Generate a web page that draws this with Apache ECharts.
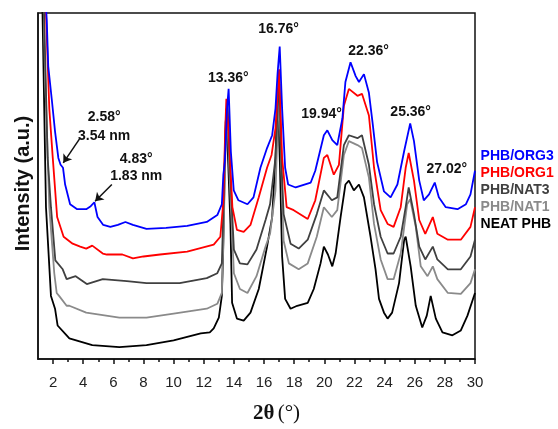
<!DOCTYPE html>
<html>
<head>
<meta charset="utf-8">
<script src="https://cdn.jsdelivr.net/npm/echarts@6.0.0/dist/echarts.min.js"></script>
<style>
  html, body { margin: 0; padding: 0; background: #fff; }
  #chart { width: 558px; height: 429px; }
</style>
</head>
<body>
<div id="chart"></div>
<script>
// 2θ (deg), intensity (a.u.)
const org3 = [
  [1.45, 380], [1.58, 344], [1.68, 297], [1.91, 264], [2.13, 231], [2.35, 204], [2.5, 197], [2.66, 194],
  [2.8, 177], [3.13, 157], [3.6, 152], [4.2, 152], [4.5, 155], [4.74, 159], [4.95, 144], [5.33, 136],
  [5.8, 134], [6.3, 136], [6.8, 139], [7.3, 136], [8.2, 132], [9.5, 133], [10.9, 135], [12.2, 139],
  [12.9, 146], [13.2, 157], [13.3, 187], [13.4, 200], [13.55, 255], [13.65, 274], [13.8, 210], [13.99, 171],
  [14.3, 161], [14.9, 157], [15.3, 164], [15.76, 194], [16.2, 214], [16.54, 227], [16.76, 254], [16.9, 290],
  [17.04, 317], [17.2, 254], [17.4, 194], [17.6, 177], [18.1, 174], [19.1, 179], [19.4, 191], [19.97, 227],
  [20.2, 232], [20.53, 222], [20.86, 217], [21.2, 244], [21.4, 281], [21.74, 301], [22.08, 287], [22.3, 281],
  [22.63, 289], [22.96, 270], [23.2, 240], [23.5, 200], [23.96, 170], [24.4, 164], [24.85, 177], [25.3, 211],
  [25.7, 239], [25.95, 221], [26.3, 181], [26.6, 161], [26.95, 167], [27.33, 179], [27.6, 164], [28.06, 154],
  [28.84, 152], [29.4, 157], [29.7, 167], [30, 191]
];
const org1 = [
  [1.4, 380], [1.53, 351], [1.75, 254], [1.98, 204], [2.27, 144], [2.7, 124], [3.3, 117], [3.8, 114],
  [4.2, 112], [4.6, 115], [5.3, 107], [5.57, 106], [6.6, 106], [7.3, 102], [8, 104], [9.1, 106],
  [10.9, 109], [12.66, 116], [13.1, 124], [13.3, 160], [13.42, 230], [13.5, 264], [13.65, 230], [13.9, 154],
  [14.2, 131], [14.65, 129], [15.1, 136], [15.65, 164], [16.2, 194], [16.5, 207], [16.76, 234], [17.0, 294],
  [17.2, 204], [17.5, 154], [17.97, 151], [18.9, 142], [19.4, 161], [19.97, 204], [20.2, 207], [20.63, 187],
  [20.97, 197], [21.3, 257], [21.63, 274], [22.2, 267], [22.5, 269], [22.96, 247], [23.3, 194], [23.74, 151],
  [24.2, 137], [24.6, 134], [25.07, 154], [25.4, 194], [25.6, 209], [25.95, 181], [26.3, 141], [26.7, 127],
  [27.2, 144], [27.5, 127], [28.2, 121], [29.06, 121], [29.7, 134], [30, 154]
];
const nat3 = [
  [1.35, 380], [1.4, 351], [1.64, 204], [1.86, 154], [2.15, 100], [2.64, 91], [2.9, 81], [3.5, 84],
  [4.24, 76], [5.3, 81], [6.9, 79], [8.2, 77], [10.4, 77], [12.2, 82], [12.9, 87], [13.2, 97],
  [13.32, 160], [13.45, 240], [13.58, 259], [13.72, 200], [14.0, 111], [14.4, 97], [14.9, 96], [15.5, 111],
  [16.1, 141], [16.4, 157], [16.76, 204], [16.92, 260], [17.02, 279], [17.15, 200], [17.3, 147], [17.76, 117],
  [18.3, 112], [18.9, 121], [19.5, 147], [19.97, 171], [20.5, 161], [20.86, 164], [21.3, 217], [21.63, 227],
  [22.2, 224], [22.5, 227], [22.96, 197], [23.3, 157], [23.74, 124], [24.2, 107], [24.6, 107], [25.07, 124],
  [25.4, 154], [25.6, 174], [25.95, 147], [26.3, 114], [26.7, 101], [27.2, 114], [27.5, 101], [28.2, 91],
  [29.06, 91], [29.7, 104], [30, 121]
];
const nat1 = [
  [1.35, 380], [1.45, 300], [1.75, 154], [2.08, 87], [2.24, 67], [2.4, 64], [2.9, 54], [3.08, 54],
  [4.2, 47], [6.4, 42], [8.2, 42], [10, 46], [12.2, 51], [12.9, 56], [13.2, 67], [13.32, 130],
  [13.45, 220], [13.55, 254], [13.7, 190], [14.0, 87], [14.4, 71], [14.9, 67], [15.5, 84], [16.1, 114],
  [16.4, 127], [16.76, 171], [16.92, 240], [17.02, 264], [17.15, 190], [17.3, 120], [17.65, 97], [18.3, 91],
  [18.9, 97], [19.5, 124], [19.97, 154], [20.5, 144], [20.86, 151], [21.3, 207], [21.63, 221], [22.2, 217],
  [22.5, 214], [22.96, 184], [23.3, 137], [23.74, 101], [24.2, 81], [24.6, 81], [25.07, 107], [25.5, 157],
  [25.7, 162], [26.07, 134], [26.4, 94], [26.85, 84], [27.2, 94], [27.5, 81], [28.2, 67], [29.06, 66],
  [29.7, 77], [30, 91]
];
const neat = [
  [1.25, 380], [1.3, 351], [1.53, 154], [1.86, 64], [2.13, 51], [2.3, 34], [2.9, 24], [3.08, 21],
  [4.6, 14], [6.4, 12], [8.2, 14], [10, 19], [11.8, 26], [12.4, 27], [12.66, 31], [13.0, 42],
  [13.2, 64], [13.28, 104], [13.4, 200], [13.5, 254], [13.62, 200], [13.77, 137], [13.88, 57], [14.2, 41],
  [14.65, 39], [15.1, 47], [15.65, 71], [16.2, 114], [16.54, 144], [16.76, 204], [16.9, 274], [17.05, 200],
  [17.2, 104], [17.4, 61], [17.76, 51], [18.2, 54], [18.9, 57], [19.3, 71], [19.75, 97], [19.97, 114],
  [20.24, 106], [20.53, 94], [20.75, 107], [21.08, 144], [21.4, 177], [21.63, 181], [21.96, 171], [22.3, 177],
  [22.63, 164], [23.07, 124], [23.4, 91], [23.63, 61], [23.96, 47], [24.2, 41], [24.5, 47], [24.96, 77],
  [25.3, 121], [25.4, 124], [25.73, 94], [26.07, 54], [26.5, 32], [26.8, 44], [27.06, 64], [27.4, 41],
  [27.84, 27], [28.5, 24], [29.06, 29], [29.5, 44], [30, 67]
];

const names = ['PHB/ORG3', 'PHB/ORG1', 'PHB/NAT3', 'PHB/NAT1', 'NEAT PHB'];
const colors = ['#0000ff', '#ff0000', '#404040', '#8a8a8a', '#000000'];
const majorTicks = [2, 4, 6, 8, 10, 12, 14, 16, 18, 20, 22, 24, 26, 28, 30];
const minorTicks = [3, 5, 7, 9, 11, 13, 15, 17, 19, 21, 23, 25, 27, 29];

// [text, 2θ, intensity] — where each annotation sits
const peakLabels = [
  ['2.58°', 5.39, 245], ['3.54 nm', 5.39, 226],
  ['4.83°', 7.52, 203], ['1.83 nm', 7.52, 185],
  ['13.36°', 13.63, 285], ['16.76°', 16.96, 335], ['19.94°', 19.82, 248],
  ['22.36°', 22.94, 312], ['25.36°', 25.73, 250], ['27.02°', 28.13, 193]
];
// arrows from the d-spacing labels to the ORG3 reflections
const arrows = [
  [[3.79, 224], [2.68, 199]],
  [[5.9, 177], [4.79, 160]]
];

const font = '"Liberation Sans", Arial, sans-serif';
const chart = echarts.init(document.getElementById('chart'));
const allData = [org3, org1, nat3, nat1, neat];

const series = allData.map((d, i) => ({
  name: names[i],
  type: 'line',
  data: d,
  showSymbol: false,
  clip: true,
  z: 10 - i,
  lineStyle: { color: colors[i], width: 1.8 },
  itemStyle: { color: colors[i] }
})).reverse();

series[series.length - 1].markLine = {
  silent: true,
  symbol: ['none', 'arrow'],
  symbolSize: 8,
  label: { show: false },
  lineStyle: { color: '#111', width: 1.5, type: 'solid' },
  data: arrows.map(a => [{ coord: a[0] }, { coord: a[1] }])
};

chart.setOption({
  animation: false,
  grid: {
    left: 38, right: 83, top: 13, bottom: 65,
    show: true, borderColor: '#111', borderWidth: 1.5
  },
  legend: {
    orient: 'vertical',
    left: 464,
    top: 144,
    itemWidth: 0,
    itemHeight: 14,
    itemGap: 3,
    selectedMode: false,
    itemStyle: { opacity: 0 },
    lineStyle: { opacity: 0 },
    textStyle: { fontFamily: font, fontWeight: 'bold', fontSize: 14, lineHeight: 14 },
    data: names.map((n, i) => ({ name: n, textStyle: { color: colors[i] } }))
  },
  xAxis: [{
    type: 'value',
    min: 1,
    max: 30,
    name: '{a|2θ} {b|(°)}',
    nameLocation: 'middle',
    nameGap: 44,
    nameTextStyle: {
      padding: [0, 0, 0, 40],
      rich: {
        a: { fontFamily: '"Liberation Serif", serif', fontWeight: 'bold', fontSize: 21, color: '#111' },
        b: { fontFamily: '"Liberation Serif", serif', fontSize: 21, color: '#111' }
      }
    },
    axisLine: { lineStyle: { color: '#111', width: 1.5 } },
    axisTick: { length: 5, inside: false, customValues: majorTicks, lineStyle: { color: '#111', width: 1.5 } },
    axisLabel: { customValues: majorTicks, margin: 16, fontFamily: font, fontSize: 15, color: '#222' },
    splitLine: { show: false }
  }, {
    type: 'value',
    min: 1,
    max: 30,
    position: 'bottom',
    axisLine: { show: false },
    axisTick: { length: 3, customValues: minorTicks, lineStyle: { color: '#111', width: 1.5 } },
    axisLabel: { show: false },
    splitLine: { show: false }
  }],
  yAxis: {
    type: 'value',
    min: 0,
    max: 351,
    name: 'Intensity (a.u.)',
    nameLocation: 'middle',
    nameGap: 5,
    nameTextStyle: { fontFamily: font, fontWeight: 'bold', fontSize: 20, color: '#111', padding: [0, 0, 0, 5] },
    axisLine: { show: true, lineStyle: { color: '#111', width: 1.5 } },
    axisTick: { show: false },
    axisLabel: { show: false },
    splitLine: { show: false }
  },
  series: series
});

chart.setOption({
  graphic: peakLabels.map(p => {
    const pt = chart.convertToPixel({ xAxisIndex: 0, yAxisIndex: 0 }, [p[1], p[2]]);
    return {
      type: 'text',
      x: pt[0],
      y: pt[1],
      z: 100,
      style: {
        text: p[0],
        font: 'bold 14px ' + font,
        fill: '#111',
        align: 'center',
        verticalAlign: 'middle'
      }
    };
  })
});
</script>
</body>
</html>
